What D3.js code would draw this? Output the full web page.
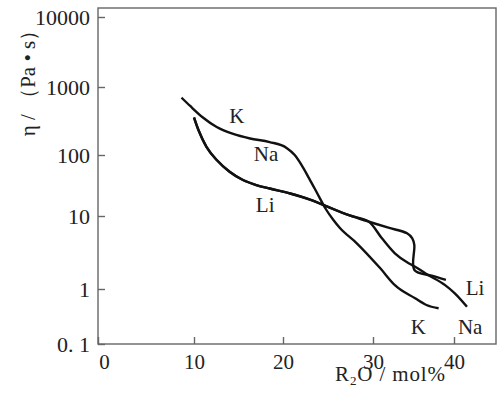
<!DOCTYPE html>
<html>
<head>
<meta charset="utf-8">
<script src="https://cdn.jsdelivr.net/npm/d3@7"></script>
<style>
  body { margin: 0; background: #fff; }
  svg text { font-family: "Liberation Serif", "DejaVu Serif", serif; fill: #222; }
</style>
</head>
<body>
<div id="chart"></div>
<script>
// mol% R2O vs viscosity (Pa·s)
const kCurve = [
  [8.7, 697], [9.6, 526], [11.0, 356], [12.55, 258], [14.4, 204], [16.3, 175],
  [18.5, 155], [20.4, 127], [21.3, 100], [22.0, 71], [22.9, 41.5], [23.8, 23.6],
  [24.7, 13.4], [25.6, 8.8], [26.3, 6.9], [28.2, 4.23], [30.9, 1.92], [32.7, 1.13],
  [35.2, 0.678], [36.6, 0.512], [38.1, 0.446]
];
const naCurve = [
  [10.0, 356], [10.5, 233], [11.4, 132], [12.55, 82.8], [14.0, 53.2], [15.5, 38.9],
  [17.0, 32.2], [18.5, 28.2], [20.8, 23.4], [23.0, 18.6], [25.0, 14.1], [27.4, 10.2],
  [29.55, 8.35], [31.1, 4.95], [32.7, 3.08], [34.4, 2.25], [35.2, 2.02], [36.8, 1.56],
  [38.9, 1.13], [40.1, 0.835], [41.6, 0.477]
];
const liCurve = [
  [10.0, 356], [10.5, 233], [11.4, 132], [12.55, 82.8], [14.0, 53.2], [15.5, 38.9],
  [17.0, 32.2], [18.5, 28.2], [20.8, 23.4], [23.0, 18.6], [25.0, 14.1], [27.4, 10.2],
  [29.55, 8.35], [31.9, 6.92], [34.2, 5.8], [34.85, 4.95], [35.1, 4.01], [35.11, 1.82],
  [37.25, 1.52], [39.0, 1.33]
];
const curveLabels = [
  { text: 'K', x: 14.8, y: 375 }, { text: 'Na', x: 18.1, y: 103 }, { text: 'Li', x: 18.0, y: 15.1 },
  { text: 'Li', x: 42.6, y: 1.06 }, { text: 'K', x: 35.6, y: 0.204 }, { text: 'Na', x: 42.0, y: 0.204 }
];
const xTicks = [0, 10, 20, 30, 40];
const yTicks = [0.1, 1, 10, 100, 1000, 10000];
const yTickLabels = ['0. 1', '1', '10', '100', '1000', '10000'];

const width = 500, height = 397;
const plot = { left: 98, right: 496, top: 8, bottom: 344 };

const svg = d3.select('#chart').append('svg')
  .attr('width', width)
  .attr('height', height);

// the original axes are hand drawn, so the decades are not evenly spaced
const x = d3.scaleLinear()
  .domain(xTicks)
  .range([98, 194, 283, 373, 454]);
const y = d3.scaleLog()
  .domain(yTicks)
  .range([344, 289, 216, 155, 87, 17]);

// frame
svg.append('rect')
  .attr('x', plot.left).attr('y', plot.top)
  .attr('width', plot.right - plot.left).attr('height', plot.bottom - plot.top)
  .attr('fill', 'none').attr('stroke', '#666').attr('stroke-width', 1.4);

// x axis, ticks pointing inward
const xAxis = svg.append('g')
  .attr('transform', `translate(0,${plot.bottom})`)
  .call(d3.axisTop(x).tickValues(xTicks).tickSize(7).tickSizeOuter(0).tickFormat(d3.format('d')));
xAxis.select('.domain').remove();
xAxis.selectAll('line').attr('stroke', '#666').attr('stroke-width', 1.4);
xAxis.selectAll('text')
  .attr('y', 25).attr('dy', 0)
  .attr('font-size', 21)
  .attr('dx', d => d === 0 ? 6 : 0);

// y axis
const yAxis = svg.append('g')
  .attr('transform', `translate(${plot.left},0)`)
  .call(d3.axisRight(y).tickValues(yTicks).tickSize(7).tickSizeOuter(0)
    .tickFormat((d, i) => yTickLabels[i]));
yAxis.select('.domain').remove();
yAxis.selectAll('line').attr('stroke', '#666').attr('stroke-width', 1.4);
yAxis.selectAll('text')
  .attr('x', -8).attr('dy', '0.35em')
  .attr('text-anchor', 'end')
  .attr('font-size', 22);

// curves
const smooth = d3.line()
  .x(d => x(d[0]))
  .y(d => y(d[1]))
  .curve(d3.curveMonotoneX);
const sharp = d3.line()
  .x(d => x(d[0]))
  .y(d => y(d[1]))
  .curve(d3.curveCatmullRom.alpha(0.5));

const curveStyle = p => p
  .attr('fill', 'none')
  .attr('stroke', '#111')
  .attr('stroke-width', 2.4)
  .attr('stroke-linejoin', 'round');

svg.append('path').attr('d', smooth(kCurve)).call(curveStyle);
svg.append('path').attr('d', smooth(naCurve)).call(curveStyle);
svg.append('path').attr('d', sharp(liCurve)).call(curveStyle);

svg.selectAll('text.lbl')
  .data(curveLabels)
  .enter().append('text')
  .attr('class', 'lbl')
  .attr('x', d => x(d.x))
  .attr('y', d => y(d.y))
  .attr('dy', '0.35em')
  .attr('text-anchor', 'middle')
  .attr('font-size', 21)
  .text(d => d.text);

// axis titles
const xt = svg.append('text')
  .attr('x', 335).attr('y', 381)
  .attr('font-size', 21)
  .attr('textLength', 110)
  .attr('lengthAdjust', 'spacing');
xt.append('tspan').text('R');
xt.append('tspan').attr('font-size', 13).attr('dy', 4).text('2');
xt.append('tspan').attr('dy', -4).text('O / mol%');

svg.append('text')
  .attr('transform', 'translate(28,78) rotate(-90)')
  .attr('text-anchor', 'middle')
  .attr('dy', '0.35em')
  .attr('font-size', 21)
  .text('η / （Pa • s）');
</script>
</body>
</html>
